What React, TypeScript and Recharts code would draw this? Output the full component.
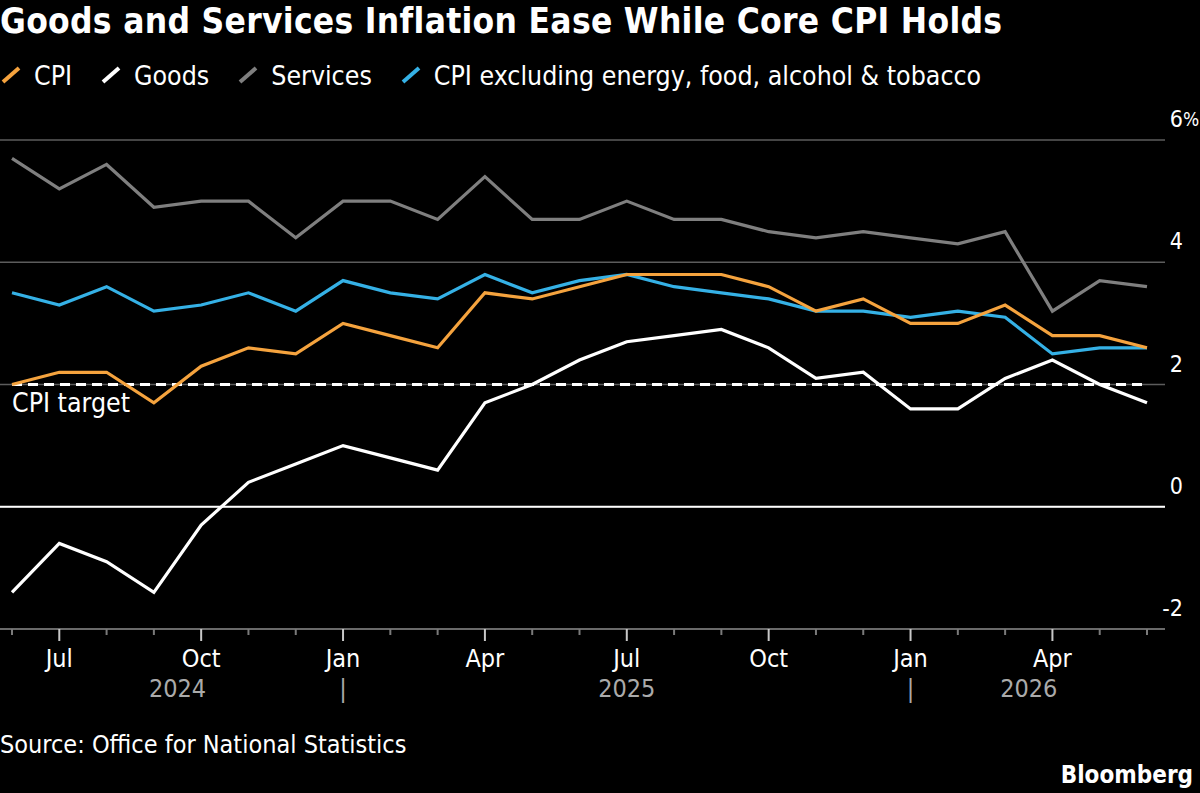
import React from "react";
import { CartesianGrid, Line, LineChart, ReferenceLine, XAxis, YAxis } from "recharts";

const months = [
  "Jun 2024", "Jul 2024", "Aug 2024", "Sep 2024", "Oct 2024", "Nov 2024", "Dec 2024",
  "Jan 2025", "Feb 2025", "Mar 2025", "Apr 2025", "May 2025", "Jun 2025", "Jul 2025",
  "Aug 2025", "Sep 2025", "Oct 2025", "Nov 2025", "Dec 2025", "Jan 2026", "Feb 2026",
  "Mar 2026", "Apr 2026", "May 2026", "Jun 2026",
];
const cpi = [2.0, 2.2, 2.2, 1.7, 2.3, 2.6, 2.5, 3.0, 2.8, 2.6, 3.5, 3.4, 3.6, 3.8, 3.8, 3.8, 3.6, 3.2, 3.4, 3.0, 3.0, 3.3, 2.8, 2.8, 2.6];
const goods = [-1.4, -0.6, -0.9, -1.4, -0.3, 0.4, 0.7, 1.0, 0.8, 0.6, 1.7, 2.0, 2.4, 2.7, 2.8, 2.9, 2.6, 2.1, 2.2, 1.6, 1.6, 2.1, 2.4, 2.0, 1.7];
const services = [5.7, 5.2, 5.6, 4.9, 5.0, 5.0, 4.4, 5.0, 5.0, 4.7, 5.4, 4.7, 4.7, 5.0, 4.7, 4.7, 4.5, 4.4, 4.5, 4.4, 4.3, 4.5, 3.2, 3.7, 3.6];
const core = [3.5, 3.3, 3.6, 3.2, 3.3, 3.5, 3.2, 3.7, 3.5, 3.4, 3.8, 3.5, 3.7, 3.8, 3.6, 3.5, 3.4, 3.2, 3.2, 3.1, 3.2, 3.1, 2.5, 2.6, 2.6];
const yTicks = [-2, 0, 2, 4, 6];
const CPI_TARGET = 2;
const majorMonths = ["Jan", "Apr", "Jul", "Oct"];
const yearLabels: Record<string, string> = { "Sep 2024": "2024", "Jul 2025": "2025", "Mar 2026": "2026" };

const FONT = "'DejaVu Sans Condensed', 'DejaVu Sans', sans-serif";
const COLORS = { cpi: "#f5a33e", goods: "#ffffff", services: "#7f7f7f", core: "#35b1e6" };
const GRID = "#5c5c5c";
const STEP = 47.3;

const data = months.map((m, i) => ({
  month: m,
  cpi: cpi[i],
  goods: goods[i],
  services: services[i],
  core: core[i],
}));

const legendItems = [
  { label: "CPI", color: COLORS.cpi },
  { label: "Goods", color: COLORS.goods },
  { label: "Services", color: COLORS.services },
  { label: "CPI excluding energy, food, alcohol & tobacco", color: COLORS.core },
];

function XTick(props: any) {
  const { x, y, payload } = props;
  const value = payload.value as string;
  const mon = value.split(" ")[0];
  const major = majorMonths.includes(mon);
  const year = yearLabels[value];
  return (
    <g fontFamily={FONT} fontSize={25}>
      <line x1={x} x2={x} y1={y} y2={y + (major ? 12 : 6)} stroke={major ? "#c8c8c8" : "#7a7a7a"} strokeWidth={2} />
      {major && (
        <text x={x} y={y + 29} fill="#fff" textAnchor="middle" dominantBaseline="central">
          {mon}
        </text>
      )}
      {mon === "Jan" && (
        <text x={x} y={y + 59} fill="#aaa" textAnchor="middle" dominantBaseline="central">
          |
        </text>
      )}
      {year && (
        <text
          x={x + (mon === "Jul" ? 0 : STEP / 2)}
          y={y + 59}
          fill="#aaa"
          textAnchor="middle"
          dominantBaseline="central"
        >
          {year}
        </text>
      )}
    </g>
  );
}

function YTick(props: any) {
  const { x, y, payload } = props;
  const v = payload.value as number;
  return (
    <g fontFamily={FONT}>
      <text x={x + 18} y={y - 21} fontSize={23} textAnchor="end" dominantBaseline="central" fill="#fff">
        {v}
      </text>
      {v === 6 && (
        <text x={x + 18} y={y - 21} fontSize={19} textAnchor="start" dominantBaseline="central" fill="#fff">
          %
        </text>
      )}
    </g>
  );
}

function Swatch({ color }: { color: string }) {
  return (
    <svg width={20} height={18} style={{ marginRight: 13 }}>
      <line x1={2} y1={16} x2={18} y2={2} stroke={color} strokeWidth={4} />
    </svg>
  );
}

export default function App() {
  return (
    <div
      style={{
        position: "relative",
        width: 1200,
        height: 793,
        background: "#000",
        color: "#fff",
        fontFamily: FONT,
        overflow: "hidden",
      }}
    >
      <style>{"body{margin:0;background:#000}"}</style>
      <div
        style={{
          position: "absolute",
          left: 0,
          top: 3,
          fontSize: 35,
          fontWeight: "bold",
          lineHeight: "36px",
          letterSpacing: 0.3,
          whiteSpace: "nowrap",
        }}
      >
        Goods and Services Inflation Ease While Core CPI Holds
      </div>
      <div
        style={{
          position: "absolute",
          left: 1,
          top: 58,
          height: 34,
          display: "flex",
          alignItems: "center",
          fontSize: 26.5,
          whiteSpace: "nowrap",
        }}
      >
        {legendItems.map((it) => (
          <div key={it.label} style={{ display: "flex", alignItems: "center", marginRight: 29 }}>
            <Swatch color={it.color} />
            <span>{it.label}</span>
          </div>
        ))}
      </div>

      <div style={{ position: "absolute", left: 0, top: 0 }}>
        <LineChart width={1200} height={720} data={data} margin={{ top: 140, right: 0, bottom: 11, left: 0 }}>
          <CartesianGrid horizontal vertical={false} stroke={GRID} strokeWidth={1.5} />
          <XAxis
            dataKey="month"
            interval={0}
            height={80}
            padding={{ left: 12, right: 18 }}
            tickLine={false}
            tickSize={0}
            tickMargin={0}
            axisLine={{ stroke: "#6a6a6a", strokeWidth: 2 }}
            tick={<XTick />}
          />
          <YAxis
            orientation="right"
            domain={[-2, 6]}
            ticks={yTicks}
            width={35}
            axisLine={false}
            tickLine={false}
            tickSize={0}
            tickMargin={0}
            tick={<YTick />}
          />
          <ReferenceLine y={0} stroke="#fff" strokeWidth={2} />
          <ReferenceLine
            segment={[
              { x: months[0], y: CPI_TARGET },
              { x: months[months.length - 1], y: CPI_TARGET },
            ]}
            stroke="#fff"
            strokeWidth={3}
            strokeDasharray="10 6"
          />
          <Line dataKey="services" stroke={COLORS.services} strokeWidth={3.2} dot={false} isAnimationActive={false} />
          <Line dataKey="goods" stroke={COLORS.goods} strokeWidth={3.2} dot={false} isAnimationActive={false} />
          <Line dataKey="core" stroke={COLORS.core} strokeWidth={3.2} dot={false} isAnimationActive={false} />
          <Line dataKey="cpi" stroke={COLORS.cpi} strokeWidth={3.2} dot={false} isAnimationActive={false} />
        </LineChart>
      </div>

      <div style={{ position: "absolute", left: 12, top: 386, fontSize: 26.5, lineHeight: "34px" }}>CPI target</div>
      <div style={{ position: "absolute", left: 0, top: 728, fontSize: 25, lineHeight: "34px" }}>
        Source: Office for National Statistics
      </div>
      <div
        style={{ position: "absolute", right: 7, top: 758, fontSize: 24, lineHeight: "34px", fontWeight: "bold" }}
      >
        Bloomberg
      </div>
    </div>
  );
}
